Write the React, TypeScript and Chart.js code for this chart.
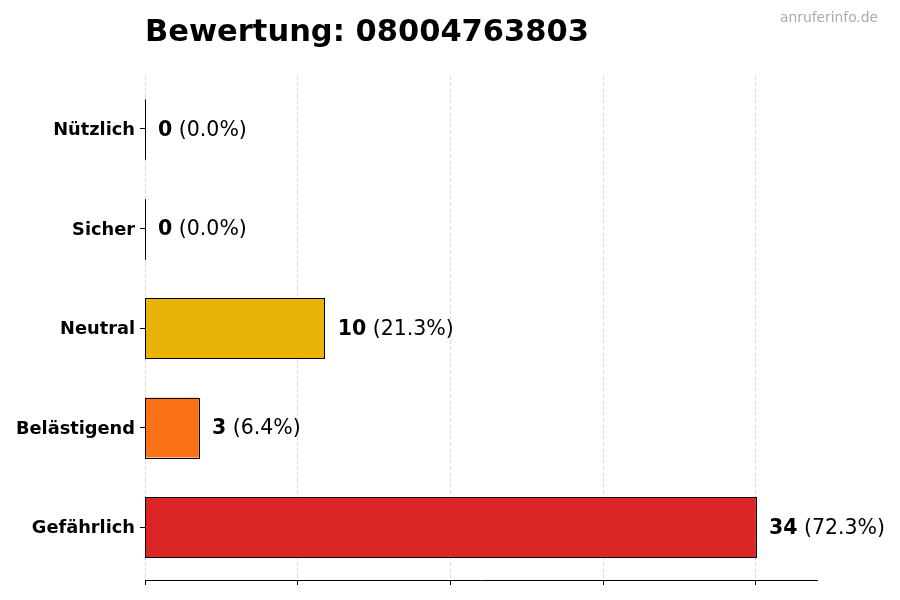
import React, { useEffect, useRef } from "react";
import { Chart, registerables } from "chart.js";

Chart.register(...registerables);

const categories = ["Nützlich", "Sicher", "Neutral", "Belästigend", "Gefährlich"];
const counts = [0, 0, 10, 3, 34];
const barColors = ["#22c55e", "#3b82f6", "#eab308", "#f97316", "#dc2626"];
const xTicks = [0, 8.5, 17, 25.5, 34];
const titleText = "Bewertung: 08004763803";
const watermarkText = "anruferinfo.de";

const FONT = "'DejaVu Sans', sans-serif";

export default function App() {
  const ref = useRef<HTMLCanvasElement | null>(null);

  useEffect(() => {
    if (!ref.current) return;
    const total = counts.reduce((a, b) => a + b, 0);

    const decorPlugin = {
      id: "decor",
      afterDatasetsDraw(chart: any) {
        const ctx = chart.ctx;
        const meta = chart.getDatasetMeta(0);
        ctx.save();
        meta.data.forEach((el: any, i: number) => {
          const props = el.getProps(["x", "y", "base", "height"], true);
          const left = Math.min(props.x, props.base);
          const right = Math.max(props.x, props.base);
          const top = props.y - props.height / 2;
          ctx.strokeStyle = "#000";
          ctx.lineWidth = 1;
          ctx.strokeRect(Math.round(left) + 0.5, Math.round(top) + 0.5, Math.round(right - left), Math.round(props.height));
          const v = counts[i];
          const pct = total ? ((v / total) * 100).toFixed(1) : "0.0";
          const x0 = right + 13;
          const ty = props.y + 1.5;
          ctx.textBaseline = "middle";
          ctx.textAlign = "left";
          ctx.fillStyle = "#000";
          ctx.font = `bold 20.5px ${FONT}`;
          const bold = String(v);
          ctx.fillText(bold, x0, ty);
          const w = ctx.measureText(bold).width;
          ctx.font = `20.5px ${FONT}`;
          ctx.fillText(` (${pct}%)`, x0 + w, ty);
        });
        ctx.restore();
      },
      afterDraw(chart: any) {
        const ctx = chart.ctx;
        ctx.save();
        ctx.fillStyle = "#000";
        ctx.font = `bold 30.5px ${FONT}`;
        ctx.textAlign = "left";
        ctx.textBaseline = "alphabetic";
        ctx.fillText(titleText, chart.chartArea.left, 41);
        ctx.fillStyle = "#aaaaaa";
        ctx.font = `13.8px ${FONT}`;
        ctx.textAlign = "right";
        ctx.fillText(watermarkText, 878, 22);
        ctx.restore();
      },
    };

    const chart = new Chart(ref.current, {
      type: "bar",
      data: {
        datasets: [
          {
            data: counts.map((v, i) => ({ x: v, y: i })) as any,
            backgroundColor: barColors,
            borderWidth: 0,
            barPercentage: 0.6,
            categoryPercentage: 1,
          },
        ],
      },
      options: {
        indexAxis: "y",
        animation: false,
        responsive: false,
        devicePixelRatio: 1,
        layout: { padding: { top: 76, right: 83, bottom: 15, left: 0 } },
        plugins: {
          legend: { display: false },
          tooltip: { enabled: false },
          title: { display: false },
        },
        scales: {
          x: {
            type: "linear",
            min: 0,
            max: 37.4,
            offset: false,
            afterBuildTicks: (scale: any) => {
              scale.ticks = xTicks.map((v) => ({ value: v }));
            },
            ticks: { display: false },
            grid: {
              offset: false,
              color: "#d4d4d4",
              lineWidth: 0.8,
              drawTicks: true,
              tickLength: 5,
              tickColor: "#000",
              tickWidth: 1,
            },
            border: { display: true, color: "#000", width: 1, dash: [4, 2] },
          },
          y: {
            type: "linear",
            reverse: true,
            min: -0.53,
            max: 4.53,
            offset: false,
            afterBuildTicks: (scale: any) => {
              scale.ticks = categories.map((_, i) => ({ value: i }));
            },
            afterFit: (scale: any) => {
              scale.width = 145;
            },
            ticks: {
              padding: 5,
              labelOffset: 1.5,
              color: "#000",
              font: { family: FONT, size: 17.8, weight: "bold" },
              callback: (v: any) => categories[Number(v)] ?? "",
            },
            grid: {
              offset: false,
              drawOnChartArea: false,
              drawTicks: true,
              tickLength: 5,
              tickColor: "#000",
              color: "#000",
            },
            border: { display: false },
          },
        },
      },
      plugins: [decorPlugin],
    });
    return () => chart.destroy();
  }, []);

  return (
    <div style={{ position: "absolute", left: 0, top: 0, width: 900, height: 600, background: "#fff" }}>
      <canvas ref={ref} width={900} height={600} style={{ display: "block" }} />
    </div>
  );
}
